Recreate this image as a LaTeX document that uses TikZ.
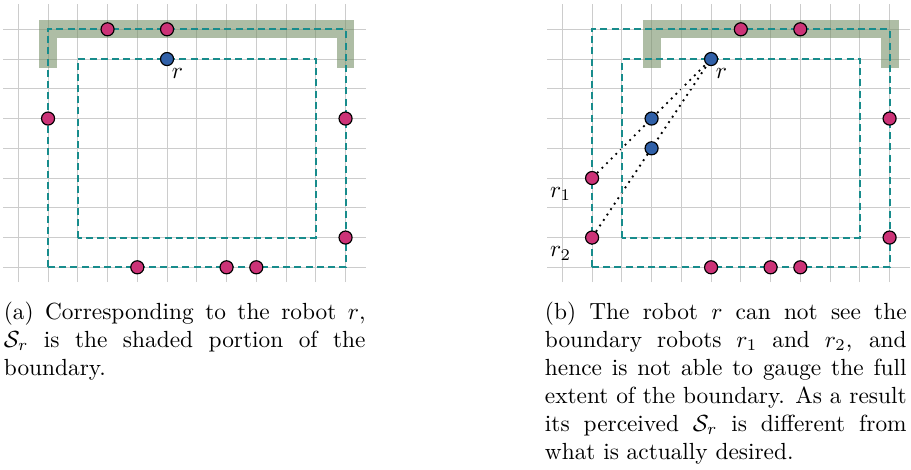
\documentclass[tikz,border=0pt]{standalone}
\usepackage{amsmath,amssymb}
\usepackage{tikz}
\usetikzlibrary{positioning, backgrounds}

\definecolor{bndpink}{RGB}{204,51,119}
\definecolor{robblue}{RGB}{48,96,168}
\definecolor{bndteal}{RGB}{24,140,140}
\definecolor{sage}{RGB}{120,145,105}

\begin{document}
\begin{tikzpicture}[x=12.75pt, y=12.75pt,
    gridline/.style={gray!40, line width=0.4pt, step=12.75pt},
    srbar/.style={sage, opacity=0.6, line width=7.65pt, line join=miter},
    bnd/.style={bndteal, line width=0.9pt, dash pattern=on 3pt off 1.8pt},
    bot/.style={circle, draw=black, line width=0.5pt, fill=bndpink,
                minimum size=5.6pt, inner sep=0pt},
    rob/.style={bot, fill=robblue},
    sight/.style={dotted, line width=0.8pt},
    lbl/.style={inner sep=0pt},
    capt/.style={anchor=north west, inner sep=0pt, text width=155pt,
                 align=justify, font=\fontsize{10}{12}\selectfont},
]
\useasboundingbox (-0.615,-6.78) rectangle (30.006,8.985);

% (a) shaded portion seen by r
\draw[gridline] (-0.5,-0.5) grid (11.7,8.85);
\draw[srbar] (1,6.7) -- (1,8) -- (11,8) -- (11,6.7);
\draw[bnd] (1,0) rectangle (11,8);
\draw[bnd] (2,1) rectangle (10,7);

\node[rob] (ra) at (5,7) {};
\node[lbl, below right=1.8pt and -0.3pt of ra] (ra-lbl) {$r$};
\node[bot] (a1) at (3,8) {};
\node[bot] (a2) at (5,8) {};
\node[bot] (a3) at (1,5) {};
\node[bot] (a4) at (11,5) {};
\node[bot] (a5) at (11,1) {};
\node[bot] (a6) at (4,0) {};
\node[bot] (a7) at (7,0) {};
\node[bot] (a8) at (8,0) {};

\node[capt] (capa) at (-0.5,-1.15) {(a) Corresponding to the robot $r$,\linebreak
  $\mathcal{S}_r$ is the shaded portion of the\linebreak boundary.};

% (b) r1 and r2 are hidden from r
\begin{scope}[xshift=233.15pt]
\draw[gridline] (-0.5,-0.5) grid (11.7,8.85);
\draw[srbar] (3,6.7) -- (3,8) -- (11,8) -- (11,6.7);
\draw[bnd] (1,0) rectangle (11,8);
\draw[bnd] (2,1) rectangle (10,7);

\node[rob] (rb) at (5,7) {};
\node[lbl, below right=1.8pt and -0.3pt of rb] (rb-lbl) {$r$};
\node[rob] (m1) at (3,5) {};
\node[rob] (m2) at (3,4) {};
\node[bot] (r1) at (1,3) {};
\node[lbl, below left=1.5pt and 6.6pt of r1] (r1-lbl) {$r_1$};
\node[bot] (r2) at (1,1) {};
\node[lbl, below left=1.5pt and 6.6pt of r2] (r2-lbl) {$r_2$};
\node[bot] (b1) at (6,8) {};
\node[bot] (b2) at (8,8) {};
\node[bot] (b3) at (11,5) {};
\node[bot] (b4) at (11,1) {};
\node[bot] (b5) at (5,0) {};
\node[bot] (b6) at (7,0) {};
\node[bot] (b7) at (8,0) {};

\begin{scope}[on background layer]
\draw[sight] (r1) -- (rb);
\draw[sight] (r2) -- (rb);
\end{scope}

\node[capt] (capb) at (-0.6,-1.15) {(b) The robot $r$ can not see the\linebreak
  boundary robots $r_1$ and $r_2$, and\linebreak hence is not able to gauge the full\linebreak
  extent of the boundary. As a result\linebreak its perceived $\mathcal{S}_r$ is different from\linebreak
  what is actually desired.};
\end{scope}
\end{tikzpicture}
\end{document}
